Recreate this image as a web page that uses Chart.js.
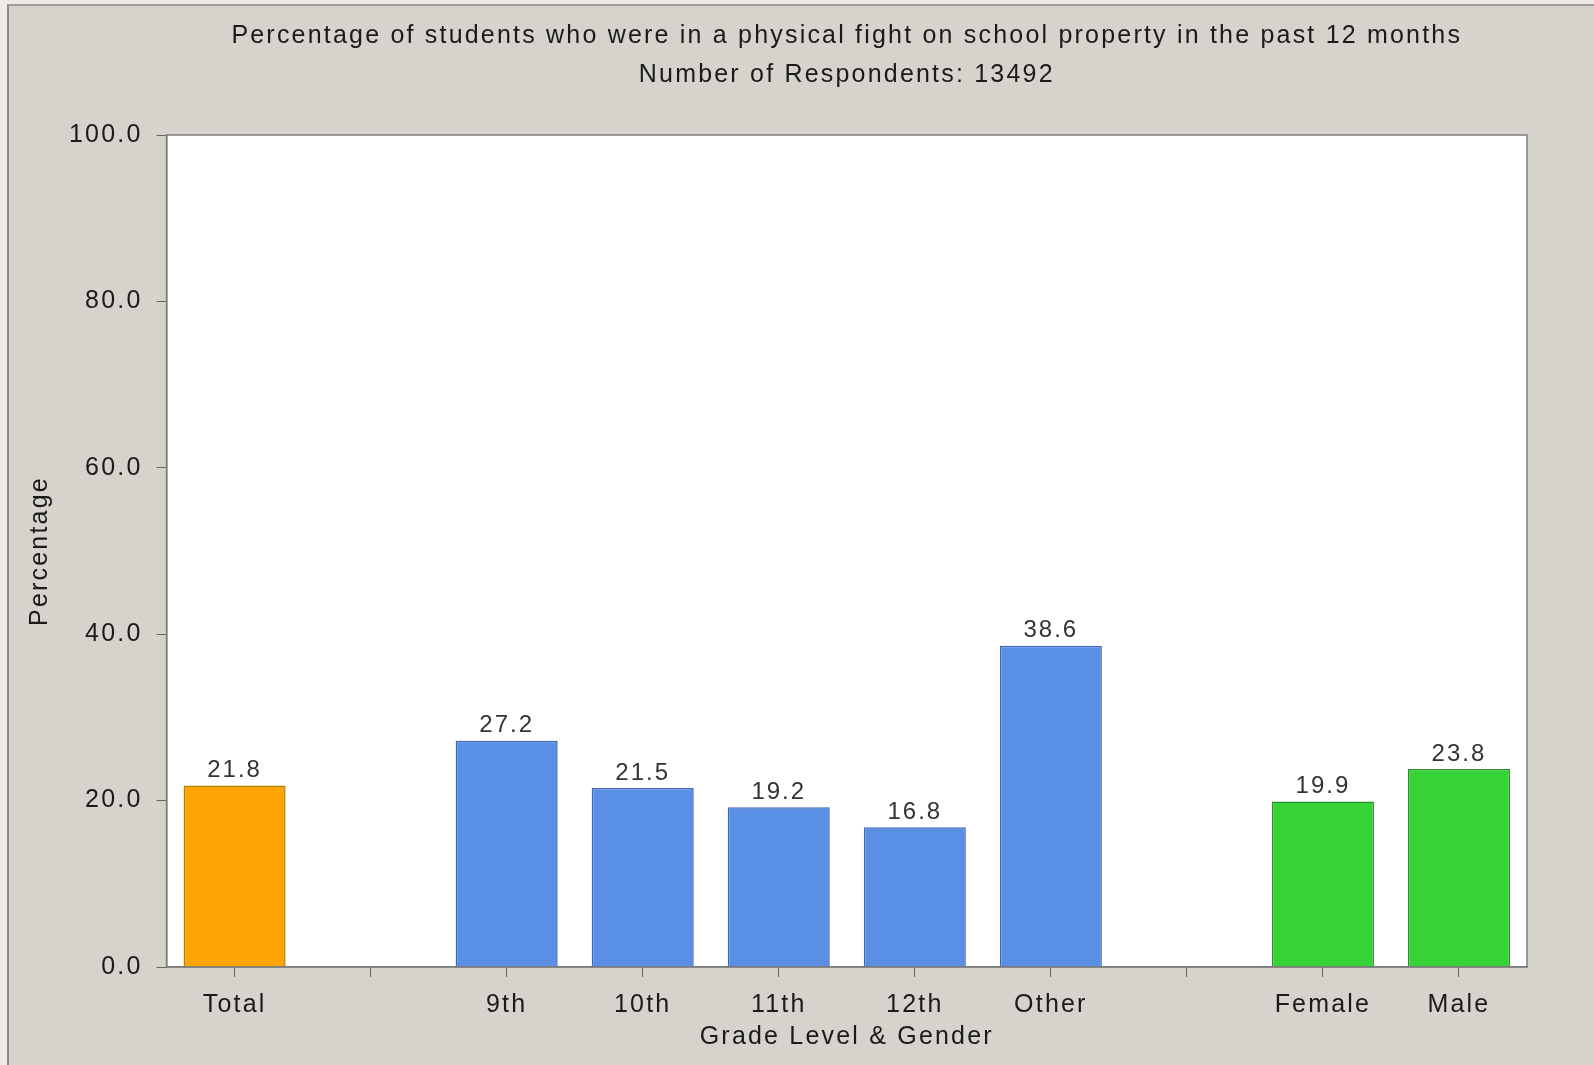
<!DOCTYPE html>
<html>
<head>
<meta charset="utf-8">
<script src="https://cdn.jsdelivr.net/npm/chart.js@4.4.1/dist/chart.umd.min.js"></script>
<style>
  body { margin: 0; background: #ecebe8; }
  #wrap { position: absolute; left: 0; top: 0; width: 1594px; height: 1065px; }
  #frame { position: absolute; left: 7px; top: 4px; right: 0; bottom: 0; border-left: 2px solid #8c8985; border-top: 2px solid #a09d99; background: #d6d3cd; }
  canvas { position: absolute; left: 0; top: 0; }
</style>
</head>
<body>
<div id="wrap">
  <div id="frame"></div>
  <canvas id="chart" width="1594" height="1065"></canvas>
</div>
<script>
// categories (blank slots are the gaps between groups)
var categories = ['Total', '', '9th', '10th', '11th', '12th', 'Other', '', 'Female', 'Male'];
var percentages = [21.8, null, 27.2, 21.5, 19.2, 16.8, 38.6, null, 19.9, 23.8];
var groups = ['total', null, 'grade', 'grade', 'grade', 'grade', 'grade', null, 'sex', 'sex'];

var fillColors = { total: '#ffa506', grade: '#5a8fe6', sex: '#35d335' };
var edgeColors = { total: '#b08200', grade: '#3f66b8', sex: '#2a8f2a' };

var font = 'Liberation Sans, Arial, sans-serif';

// the original text is set loosely, so space the letters out a bit
var spacing = {
    id: 'spacing',
    beforeUpdate: function (chart) { chart.ctx.letterSpacing = '2.2px'; },
    beforeDraw: function (chart) { chart.ctx.letterSpacing = '2.2px'; }
};

// value labels above the bars
var valueLabels = {
    id: 'valueLabels',
    afterDatasetsDraw: function (chart) {
        var ctx = chart.ctx;
        var meta = chart.getDatasetMeta(0);
        ctx.save();
        ctx.letterSpacing = '2px';
        ctx.font = '24px ' + font;
        ctx.fillStyle = '#333';
        ctx.textAlign = 'center';
        ctx.textBaseline = 'bottom';
        meta.data.forEach(function (bar, i) {
            if (percentages[i] == null) return;
            ctx.fillText(percentages[i].toFixed(1), bar.x, bar.y - 3);
        });
        ctx.restore();
    }
};

// white plot area with a thin frame
var plotFrame = {
    id: 'plotFrame',
    beforeDraw: function (chart) {
        var a = chart.chartArea;
        var ctx = chart.ctx;
        ctx.save();
        ctx.fillStyle = '#ffffff';
        ctx.fillRect(a.left, a.top, a.right - a.left, a.bottom - a.top);
        ctx.restore();
    },
    afterDraw: function (chart) {
        var a = chart.chartArea;
        var ctx = chart.ctx;
        ctx.save();
        ctx.strokeStyle = '#7d7d7d';
        ctx.lineWidth = 1.5;
        ctx.strokeRect(a.left, a.top, a.right - a.left, a.bottom - a.top);
        ctx.restore();
    }
};

const ctx = document.getElementById('chart').getContext('2d');
const chart = new Chart(ctx, {
    type: 'bar',
    data: {
        labels: categories,
        datasets: [{
            label: 'Percentage',
            data: percentages,
            backgroundColor: groups.map(function (g) { return g ? fillColors[g] : 'transparent'; }),
            borderColor: groups.map(function (g) { return g ? edgeColors[g] : 'transparent'; }),
            borderWidth: 1.5,
            categoryPercentage: 1.0,
            barPercentage: 0.75
        }]
    },
    options: {
        responsive: false,
        animation: false,
        layout: { padding: { left: 22, right: 67, top: 0, bottom: 24 } },
        plugins: {
            legend: { display: false },
            tooltip: { enabled: false },
            title: {
                display: true,
                fullSize: false,
                text: ['Percentage of students who were in a physical fight on school property in the past 12 months',
                       'Number of Respondents: 13492'],
                color: '#1a1a1a',
                font: { family: font, size: 25, weight: 'normal', lineHeight: 1.58 },
                padding: { top: 16, bottom: 40 }
            }
        },
        scales: {
            x: {
                offset: true,
                grid: { display: true, drawOnChartArea: false, drawTicks: true, tickLength: 10, color: '#666', offset: false },
                border: { display: true, color: '#7d7d7d', width: 1.5 },
                ticks: { color: '#1a1a1a', font: { family: font, size: 25 }, padding: 13, maxRotation: 0, autoSkip: false },
                title: {
                    display: true,
                    text: 'Grade Level & Gender',
                    color: '#1a1a1a',
                    font: { family: font, size: 25, lineHeight: 0.32 },
                    padding: { top: 0, bottom: 0 }
                }
            },
            y: {
                min: 0,
                max: 100,
                grid: { drawOnChartArea: false, drawTicks: true, tickLength: 10, color: '#666' },
                border: { display: true, color: '#7d7d7d', width: 1.5 },
                ticks: {
                    stepSize: 20,
                    color: '#1a1a1a',
                    font: { family: font, size: 25 },
                    padding: 14,
                    callback: function (v) { return v.toFixed(1); }
                },
                title: {
                    display: true,
                    text: 'Percentage',
                    color: '#1a1a1a',
                    font: { family: font, size: 25 },
                    padding: { top: 3, bottom: 0 }
                }
            }
        }
    },
    plugins: [spacing, plotFrame, valueLabels]
});
</script>
</body>
</html>
